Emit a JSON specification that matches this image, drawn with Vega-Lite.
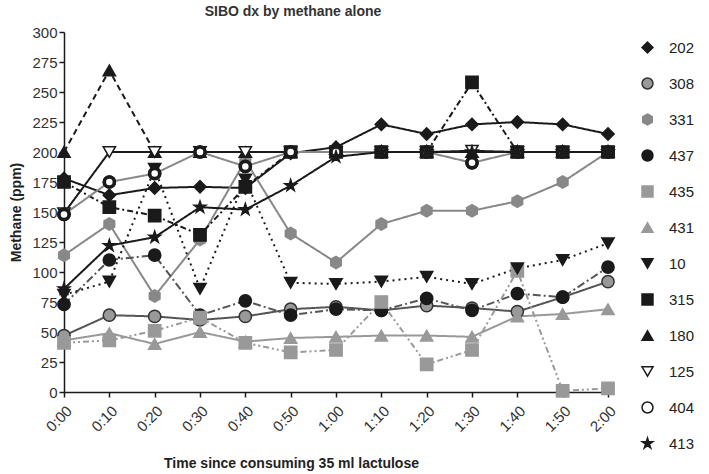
{
  "$schema": "https://vega.github.io/schema/vega-lite/v6.json",
  "width": 544,
  "height": 360,
  "autosize": "none",
  "padding": {"left": 64, "top": 32, "right": 101, "bottom": 82},
  "title": {"text": "SIBO dx by methane alone", "font": "Liberation Sans", "fontSize": 14, "fontWeight": "bold", "color": "#333", "anchor": "middle", "frame": "group", "dx": -43, "offset": 6},
  "data": {"values": [
    {"id":"202","t":"0:00","v":178},{"id":"202","t":"0:10","v":164},{"id":"202","t":"0:20","v":170},{"id":"202","t":"0:30","v":171},{"id":"202","t":"0:40","v":170},{"id":"202","t":"0:50","v":199},{"id":"202","t":"1:00","v":204},{"id":"202","t":"1:10","v":223},{"id":"202","t":"1:20","v":215},{"id":"202","t":"1:30","v":223},{"id":"202","t":"1:40","v":225},{"id":"202","t":"1:50","v":223},{"id":"202","t":"2:00","v":215},
    {"id":"308","t":"0:00","v":47},{"id":"308","t":"0:10","v":64},{"id":"308","t":"0:20","v":63},{"id":"308","t":"0:30","v":60},{"id":"308","t":"0:40","v":63},{"id":"308","t":"0:50","v":69},{"id":"308","t":"1:00","v":71},{"id":"308","t":"1:10","v":68},{"id":"308","t":"1:20","v":72},{"id":"308","t":"1:30","v":70},{"id":"308","t":"1:40","v":67},{"id":"308","t":"1:50","v":79},{"id":"308","t":"2:00","v":92},
    {"id":"331","t":"0:00","v":114},{"id":"331","t":"0:10","v":140},{"id":"331","t":"0:20","v":80},{"id":"331","t":"0:30","v":127},{"id":"331","t":"0:40","v":193},{"id":"331","t":"0:50","v":132},{"id":"331","t":"1:00","v":108},{"id":"331","t":"1:10","v":140},{"id":"331","t":"1:20","v":151},{"id":"331","t":"1:30","v":151},{"id":"331","t":"1:40","v":159},{"id":"331","t":"1:50","v":175},{"id":"331","t":"2:00","v":200},
    {"id":"437","t":"0:00","v":73},{"id":"437","t":"0:10","v":110},{"id":"437","t":"0:20","v":114},{"id":"437","t":"0:30","v":64},{"id":"437","t":"0:40","v":76},{"id":"437","t":"0:50","v":64},{"id":"437","t":"1:00","v":69},{"id":"437","t":"1:10","v":68},{"id":"437","t":"1:20","v":78},{"id":"437","t":"1:30","v":68},{"id":"437","t":"1:40","v":82},{"id":"437","t":"1:50","v":79},{"id":"437","t":"2:00","v":104},
    {"id":"435","t":"0:00","v":41},{"id":"435","t":"0:10","v":43},{"id":"435","t":"0:20","v":51},{"id":"435","t":"0:30","v":62},{"id":"435","t":"0:40","v":41},{"id":"435","t":"0:50","v":33},{"id":"435","t":"1:00","v":35},{"id":"435","t":"1:10","v":75},{"id":"435","t":"1:20","v":23},{"id":"435","t":"1:30","v":35},{"id":"435","t":"1:40","v":101},{"id":"435","t":"1:50","v":1},{"id":"435","t":"2:00","v":3},
    {"id":"431","t":"0:00","v":43},{"id":"431","t":"0:10","v":49},{"id":"431","t":"0:20","v":40},{"id":"431","t":"0:30","v":50},{"id":"431","t":"0:40","v":42},{"id":"431","t":"0:50","v":45},{"id":"431","t":"1:00","v":46},{"id":"431","t":"1:10","v":47},{"id":"431","t":"1:20","v":47},{"id":"431","t":"1:30","v":46},{"id":"431","t":"1:40","v":63},{"id":"431","t":"1:50","v":65},{"id":"431","t":"2:00","v":69},
    {"id":"10","t":"0:00","v":81},{"id":"10","t":"0:10","v":92},{"id":"10","t":"0:20","v":186},{"id":"10","t":"0:30","v":86},{"id":"10","t":"0:40","v":177},{"id":"10","t":"0:50","v":91},{"id":"10","t":"1:00","v":90},{"id":"10","t":"1:10","v":92},{"id":"10","t":"1:20","v":96},{"id":"10","t":"1:30","v":90},{"id":"10","t":"1:40","v":103},{"id":"10","t":"1:50","v":110},{"id":"10","t":"2:00","v":124},
    {"id":"315","t":"0:00","v":175},{"id":"315","t":"0:10","v":154},{"id":"315","t":"0:20","v":147},{"id":"315","t":"0:30","v":131},{"id":"315","t":"0:40","v":171},{"id":"315","t":"0:50","v":200},{"id":"315","t":"1:00","v":200},{"id":"315","t":"1:10","v":200},{"id":"315","t":"1:20","v":200},{"id":"315","t":"1:30","v":258},{"id":"315","t":"1:40","v":200},{"id":"315","t":"1:50","v":200},{"id":"315","t":"2:00","v":200},
    {"id":"180","t":"0:00","v":200},{"id":"180","t":"0:10","v":268},{"id":"180","t":"0:20","v":200},{"id":"180","t":"0:30","v":200},{"id":"180","t":"0:40","v":200},{"id":"180","t":"0:50","v":200},{"id":"180","t":"1:00","v":200},{"id":"180","t":"1:10","v":200},{"id":"180","t":"1:20","v":200},{"id":"180","t":"1:30","v":200},{"id":"180","t":"1:40","v":200},{"id":"180","t":"1:50","v":200},{"id":"180","t":"2:00","v":200},
    {"id":"125","t":"0:00","v":149},{"id":"125","t":"0:10","v":200},{"id":"125","t":"0:20","v":200},{"id":"125","t":"0:30","v":200},{"id":"125","t":"0:40","v":200},{"id":"125","t":"0:50","v":200},{"id":"125","t":"1:00","v":200},{"id":"125","t":"1:10","v":200},{"id":"125","t":"1:20","v":200},{"id":"125","t":"1:30","v":201},{"id":"125","t":"1:40","v":200},{"id":"125","t":"1:50","v":200},{"id":"125","t":"2:00","v":200},
    {"id":"404","t":"0:00","v":148},{"id":"404","t":"0:10","v":175},{"id":"404","t":"0:20","v":182},{"id":"404","t":"0:30","v":200},{"id":"404","t":"0:40","v":188},{"id":"404","t":"0:50","v":200},{"id":"404","t":"1:00","v":200},{"id":"404","t":"1:10","v":200},{"id":"404","t":"1:20","v":200},{"id":"404","t":"1:30","v":191},{"id":"404","t":"1:40","v":200},{"id":"404","t":"1:50","v":200},{"id":"404","t":"2:00","v":200},
    {"id":"413","t":"0:00","v":86},{"id":"413","t":"0:10","v":122},{"id":"413","t":"0:20","v":129},{"id":"413","t":"0:30","v":154},{"id":"413","t":"0:40","v":152},{"id":"413","t":"0:50","v":172},{"id":"413","t":"1:00","v":196},{"id":"413","t":"1:10","v":200},{"id":"413","t":"1:20","v":200},{"id":"413","t":"1:30","v":200},{"id":"413","t":"1:40","v":200},{"id":"413","t":"1:50","v":200},{"id":"413","t":"2:00","v":200}
  ]},
  "encoding": {
    "x": {"field": "t", "type": "ordinal",
      "scale": {"type": "point", "padding": 0, "domain": ["0:00","0:10","0:20","0:30","0:40","0:50","1:00","1:10","1:20","1:30","1:40","1:50","2:00"]},
      "axis": {"title": "Time since consuming 35 ml lactulose", "labelAngle": -45, "labelPadding": 6, "titleX": 227, "titleY": 64}},
    "y": {"field": "v", "type": "quantitative",
      "scale": {"domain": [0, 300], "nice": false, "zero": true},
      "axis": {"title": "Methane (ppm)", "values": [0,25,50,75,100,125,150,175,200,225,250,275,300], "titlePadding": 8}}
  },
  "layer": [
    {
      "mark": {"type": "line", "strokeWidth": 2},
      "encoding": {
        "color": {"field": "id", "type": "nominal", "legend": null,
          "scale": {"domain": ["10","125","180","202","308","315","331","404","413","431","435","437"],
                    "range": ["#1a1a1a","#1a1a1a","#1a1a1a","#1a1a1a","#555555","#1a1a1a","#888888","#888888","#1a1a1a","#999999","#999999","#555555"]}},
        "strokeDash": {"field": "id", "type": "nominal", "legend": null,
          "scale": {"domain": ["10","125","180","202","308","315","331","404","413","431","435","437"],
                    "range": [[2,4],[1,0],[6,4],[1,0],[1,0],[6,3,2,3],[1,0],[1,0],[1,0],[1,0],[6,3,2,3,2,3],[8,3,2,3]]}}
      }
    },
    {
      "mark": {"type": "point", "filled": true, "size": 150, "strokeWidth": 1.5, "opacity": 1},
      "encoding": {
        "fill": {"field": "id", "type": "nominal", "title": null,
          "scale": {"domain": ["202","308","331","437","435","431","10","315","180","125","404","413"],
                    "range": ["#1a1a1a","#999999","#888888","#1a1a1a","#999999","#999999","#1a1a1a","#1a1a1a","#1a1a1a","#ffffff","#ffffff","#1a1a1a"]}},
        "stroke": {"field": "id", "type": "nominal", "title": null,
          "scale": {"domain": ["202","308","331","437","435","431","10","315","180","125","404","413"],
                    "range": ["#1a1a1a","#333333","#888888","#1a1a1a","#999999","#999999","#1a1a1a","#1a1a1a","#1a1a1a","#1a1a1a","#1a1a1a","#1a1a1a"]}},
        "shape": {"field": "id", "type": "nominal", "title": null,
          "legend": {"orient": "right", "offset": 20, "padding": 8, "rowPadding": 19, "symbolSize": 120, "symbolStrokeWidth": 1.5, "labelFont": "Liberation Sans", "labelFontSize": 15, "labelColor": "#222222", "labelOffset": 14},
          "scale": {"domain": ["202","308","331","437","435","431","10","315","180","125","404","413"],
                    "range": ["diamond","circle","M0,-1L0.866,-0.5L0.866,0.5L0,1L-0.866,0.5L-0.866,-0.5Z","circle","square","triangle-up","triangle-down","square","triangle-up","triangle-down","circle","M0,-1L0.223,-0.307L0.951,-0.309L0.361,0.117L0.588,0.809L0,0.38L-0.588,0.809L-0.361,0.117L-0.951,-0.309L-0.223,-0.307Z"]}}
      }
    },
    {
      "transform": [{"filter": "datum.id == '404'"}],
      "mark": {"type": "point", "shape": "circle", "filled": false, "size": 100, "stroke": "#1a1a1a", "strokeWidth": 3.5, "opacity": 1}
    }
  ],
  "config": {
    "view": {"stroke": null},
    "axis": {"grid": false, "domainColor": "#1a1a1a", "domainWidth": 1.5, "tickColor": "#1a1a1a", "tickWidth": 1.5, "tickSize": 5,
      "labelFont": "Liberation Sans", "labelFontSize": 15, "labelColor": "#333333",
      "titleFont": "Liberation Sans", "titleFontSize": 14, "titleFontWeight": "bold", "titleColor": "#222222"}
  }
}
